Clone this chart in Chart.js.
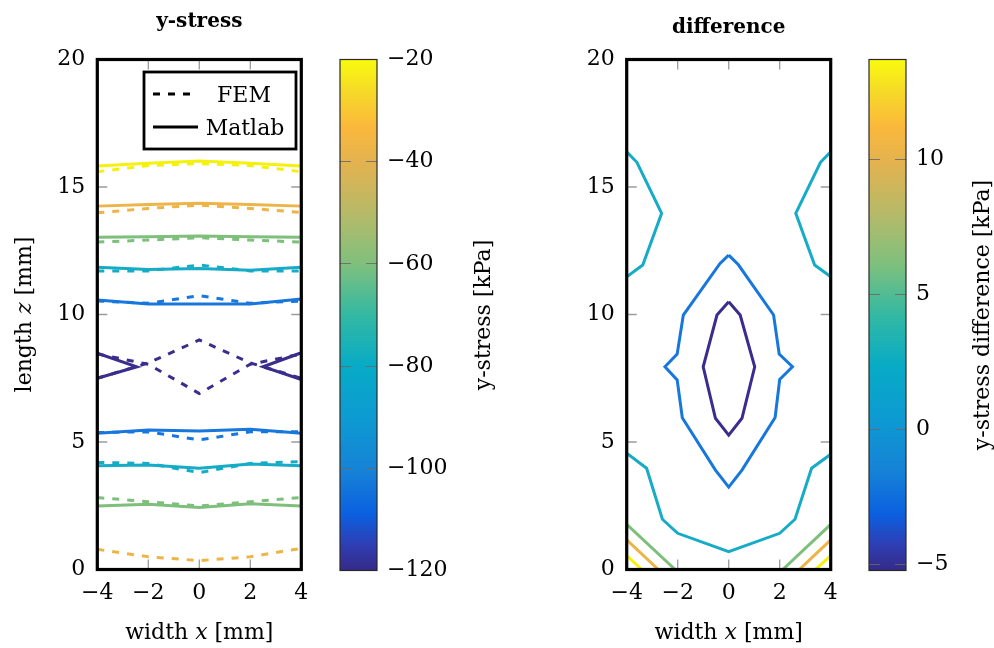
<!DOCTYPE html>
<html>
<head>
<meta charset="utf-8">
<script src="https://cdn.jsdelivr.net/npm/chart.js@4.4.0/dist/chart.umd.min.js"></script>
<style>
  html, body { margin: 0; padding: 0; background: #fff; }
  #wrap { position: relative; width: 994px; height: 648px; }
  #wrap canvas { position: absolute; left: 0; top: 0; }
</style>
</head>
<body>
<div id="wrap">
  <canvas id="stressChart" width="994" height="648"></canvas>
  <canvas id="stressBar" width="994" height="648"></canvas>
  <canvas id="diffChart" width="994" height="648"></canvas>
  <canvas id="diffBar" width="994" height="648"></canvas>
</div>
<script>
// axis ticks
const xTicks = [-4, -2, 0, 2, 4];
const zTicks = [0, 5, 10, 15, 20];
const stressTicks = [-120, -100, -80, -60, -40, -20];
const stressRange = [-120, -20];
const diffTicks = [-5, 0, 5, 10];
const diffRange = [-5.22, 13.7];

// contour heights z [mm] sampled at these widths
const widthX = [-4, -2, 0, 2, 4];

// Matlab contours (solid)
const matYellow = [15.82, 15.93, 16.02, 15.93, 15.82];
const matOrange = [14.25, 14.31, 14.36, 14.31, 14.25];
const matGreen = [13.03, 13.05, 13.08, 13.05, 13.03];
const matTealTop = [11.85, 11.76, 11.80, 11.74, 11.85];
const matBlueTop = [10.57, 10.41, 10.41, 10.41, 10.61];
const matPurpleLeft = [[-4, 8.48], [-2.45, 7.95], [-4, 7.5]];
const matPurpleRight = [[4, 8.5], [2.5, 7.95], [4, 7.45]];
const matBlueLow = [5.34, 5.47, 5.43, 5.5, 5.34];
const matTealLow = [4.07, 4.1, 3.97, 4.14, 4.07];
const matGreenLow = [2.49, 2.56, 2.43, 2.58, 2.49];

// FEM contours (dashed)
const femYellow = [15.6, 15.84, 15.92, 15.84, 15.6];
const femOrange = [13.99, 14.16, 14.29, 14.16, 14.0];
const femGreen = [12.84, 12.92, 13.01, 12.92, 12.84];
const femTealTop = [11.71, 11.71, 11.94, 11.71, 11.71];
const femBlueTop = [10.53, 10.44, 10.74, 10.44, 10.53];
const femPurpleA = [8.45, 8.05, 6.9, 8.05, 8.45];
const femPurpleB = [7.5, 8.1, 9.0, 8.1, 7.5];
const femBlueLow = [5.37, 5.4, 5.08, 5.4, 5.4];
const femTealLow = [4.2, 4.16, 3.8, 4.16, 4.23];
const femGreenLow = [2.82, 2.66, 2.49, 2.66, 2.82];
const femOrangeLow = [0.79, 0.5, 0.35, 0.5, 0.83];

// difference contours, [x, z] pairs
const diffTealUpLeft = [[-4, 16.38], [-3.6, 15.97], [-2.63, 13.97], [-3.37, 11.94], [-4, 11.48]];
const diffTealUpRight = [[4, 16.38], [3.6, 15.97], [2.63, 13.97], [3.37, 11.94], [4, 11.48]];
const diffTealLow = [[-4, 4.56], [-3.22, 3.97], [-2.6, 1.97], [-2.0, 1.42], [0, 0.7],
  [2.0, 1.42], [2.6, 1.97], [3.25, 3.97], [4, 4.52]];
const diffBlue = [[0, 12.33], [0.38, 11.95], [1.76, 9.98], [1.98, 8.45], [2.5, 7.95],
  [2.0, 7.45], [1.82, 5.96], [0.52, 3.9], [0, 3.23], [-0.52, 3.9], [-1.82, 5.95],
  [-2.02, 7.43], [-2.5, 7.95], [-2.02, 8.45], [-1.78, 9.98], [-0.34, 12.0], [0, 12.33]];
const diffPurple = [[0, 10.5], [0.45, 9.98], [1.02, 7.95], [0.52, 5.93], [0, 5.27],
  [-0.52, 5.93], [-1.0, 7.95], [-0.46, 9.98], [0, 10.5]];
const diffGreenLeft = [[-4, 1.77], [-2.1, 0]];
const diffGreenRight = [[2.12, 0], [4, 1.77]];
const diffOrangeLeft = [[-4, 1.16], [-2.76, 0]];
const diffOrangeRight = [[2.77, 0], [4, 1.16]];
const diffYellowLeft = [[-4, 0.54], [-3.41, 0]];
const diffYellowRight = [[3.4, 0], [4, 0.54]];

// colours
const tone = {
  yellow: '#f5f10f',
  orange: '#edb448',
  green: '#7dbf7b',
  teal: '#16abc6',
  blue: '#1877dc',
  purple: '#3a2d8e'
};
const parula = [
  [0.00, '#352a87'], [0.05, '#2f3eb4'], [0.11, '#0b60e0'], [0.20, '#1684d6'],
  [0.30, '#0d9bd2'], [0.40, '#07abc6'], [0.50, '#33b9a2'], [0.60, '#7fc07d'],
  [0.70, '#b7ba68'], [0.80, '#e4b24f'], [0.87, '#fbb93b'], [0.94, '#f6db27'],
  [1.00, '#f9fb0e']
];

const SERIF = "'DejaVu Serif', 'Liberation Serif', serif";
const tickFont = { family: SERIF, size: 22 };
const W = 994, H = 648;
const stressArea = { left: 97.3, right: 301.3, top: 59.5, bottom: 569.5 };
const diffArea = { left: 626.7, right: 830.7, top: 59.5, bottom: 569.5 };

const fmt = v => (v < 0 ? '\u2212' + Math.abs(v) : String(v));

function onGrid(zs) {
  return zs.map((z, i) => [widthX[i], z]);
}

function contour(points, color, dashed, width) {
  return {
    data: points.map(([x, z]) => ({ x: x, y: z })),
    showLine: true,
    borderColor: color,
    borderWidth: width || 3,
    borderDash: dashed ? [7, 8] : [],
    pointRadius: 0,
    fill: false,
    tension: 0
  };
}

function drawRich(ctx, parts, cx, cy, rotate) {
  ctx.save();
  ctx.translate(cx, cy);
  if (rotate) ctx.rotate(-Math.PI / 2);
  ctx.textBaseline = 'middle';
  ctx.textAlign = 'left';
  ctx.fillStyle = '#000';
  let total = 0;
  parts.forEach(p => { ctx.font = p.font; total += ctx.measureText(p.text).width; });
  let x = -total / 2;
  parts.forEach(p => {
    ctx.font = p.font;
    ctx.fillText(p.text, x, 0);
    x += ctx.measureText(p.text).width;
  });
  ctx.restore();
}

const upright = '22px ' + SERIF;
const slanted = 'italic 22px ' + SERIF;

// inner tick marks and the heavy frame
const frameTicks = {
  id: 'frameTicks',
  beforeDatasetsDraw(chart) {
    const { ctx, chartArea: a, scales } = chart;
    ctx.save();
    ctx.strokeStyle = '#9c9c9c';
    ctx.lineWidth = 1.3;
    ctx.beginPath();
    scales.x.ticks.forEach(t => {
      const px = scales.x.getPixelForValue(t.value);
      if (px < a.left + 2 || px > a.right - 2) return;
      ctx.moveTo(px, a.bottom); ctx.lineTo(px, a.bottom - 10);
      ctx.moveTo(px, a.top); ctx.lineTo(px, a.top + 10);
    });
    scales.y.ticks.forEach(t => {
      const py = scales.y.getPixelForValue(t.value);
      if (py < a.top + 2 || py > a.bottom - 2) return;
      ctx.moveTo(a.left, py); ctx.lineTo(a.left + 10, py);
      ctx.moveTo(a.right, py); ctx.lineTo(a.right - 10, py);
    });
    ctx.stroke();
    ctx.restore();
  },
  afterDatasetsDraw(chart) {
    const { ctx, chartArea: a } = chart;
    ctx.save();
    ctx.strokeStyle = '#000';
    ctx.lineWidth = 3.2;
    ctx.strokeRect(a.left, a.top, a.right - a.left, a.bottom - a.top);
    ctx.restore();
  },
  afterDraw(chart) {
    const { ctx, chartArea: a } = chart;
    const cx = (a.left + a.right) / 2;
    drawRich(ctx, [{ text: 'width ', font: upright }, { text: 'x', font: slanted }, { text: ' [mm]', font: upright }], cx, 633, false);
    if (chart.canvas.id === 'stressChart') {
      drawRich(ctx, [{ text: 'length ', font: upright }, { text: 'z', font: slanted }, { text: ' [mm]', font: upright }], 25, (a.top + a.bottom) / 2, true);
    }
  }
};

// FEM / Matlab key in the upper right corner
const lineKey = {
  id: 'lineKey',
  afterDraw(chart) {
    const ctx = chart.ctx;
    ctx.save();
    ctx.fillStyle = '#fff';
    ctx.fillRect(144, 72, 152, 77);
    ctx.strokeStyle = '#000';
    ctx.lineWidth = 2.8;
    ctx.strokeRect(144, 72, 152, 77);
    ctx.lineWidth = 3;
    ctx.setLineDash([7, 8]);
    ctx.beginPath(); ctx.moveTo(153, 94); ctx.lineTo(195, 94); ctx.stroke();
    ctx.setLineDash([]);
    ctx.beginPath(); ctx.moveTo(153, 127); ctx.lineTo(198, 127); ctx.stroke();
    ctx.fillStyle = '#000';
    ctx.font = upright;
    ctx.textAlign = 'center';
    ctx.textBaseline = 'alphabetic';
    ctx.fillText('FEM', 244, 102);
    ctx.fillText('Matlab', 245, 135);
    ctx.restore();
  }
};

// parula strip with border and rotated caption
const colorbar = {
  id: 'colorbar',
  beforeDraw(chart) {
    const { ctx, chartArea: a } = chart;
    const g = ctx.createLinearGradient(0, a.bottom, 0, a.top);
    parula.forEach(([t, c]) => g.addColorStop(t, c));
    ctx.save();
    ctx.fillStyle = g;
    ctx.fillRect(a.left, a.top, a.right - a.left, a.bottom - a.top);
    ctx.restore();
  },
  afterDraw(chart, args, opts) {
    const { ctx, chartArea: a } = chart;
    ctx.save();
    ctx.strokeStyle = '#2a2a2a';
    ctx.lineWidth = 1.2;
    ctx.strokeRect(a.left, a.top, a.right - a.left, a.bottom - a.top);
    ctx.restore();
    drawRich(ctx, [{ text: opts.caption, font: upright }], opts.captionX, (a.top + a.bottom) / 2, true);
  }
};

function plotConfig(area, title, titlePad, datasets, extraPlugins) {
  const yAxisW = 80;
  return {
    type: 'scatter',
    data: { datasets: datasets },
    plugins: [frameTicks].concat(extraPlugins),
    options: {
      responsive: false,
      animation: false,
      events: [],
      layout: { padding: { left: area.left - yAxisW, right: W - area.right, top: 0, bottom: 0 } },
      plugins: {
        legend: { display: false },
        tooltip: { enabled: false },
        title: {
          display: true, text: title, fullSize: false, color: '#000',
          font: { family: SERIF, size: 20, weight: 'bold', lineHeight: 1.2 },
          padding: titlePad
        }
      },
      scales: {
        x: {
          type: 'linear', min: -4, max: 4,
          afterBuildTicks: s => { s.ticks = xTicks.map(v => ({ value: v })); },
          afterFit: s => { s.height = H - area.bottom; },
          grid: { display: false }, border: { display: false },
          ticks: { font: tickFont, color: '#000', padding: 3, maxRotation: 0, autoSkip: false, callback: fmt }
        },
        y: {
          type: 'linear', min: 0, max: 20,
          afterBuildTicks: s => { s.ticks = zTicks.map(v => ({ value: v })); },
          afterFit: s => { s.width = yAxisW; },
          grid: { display: false }, border: { display: false },
          ticks: { font: tickFont, color: '#000', padding: 4, autoSkip: false, callback: fmt }
        }
      }
    }
  };
}

function barConfig(left, right, range, ticks, caption, captionX) {
  const axisW = 80;
  return {
    type: 'scatter',
    data: { datasets: [] },
    plugins: [colorbar],
    options: {
      responsive: false,
      animation: false,
      events: [],
      layout: { padding: { left: left, right: W - right - axisW, top: 59.5, bottom: H - 570.5 } },
      plugins: {
        legend: { display: false },
        tooltip: { enabled: false },
        colorbar: { caption: caption, captionX: captionX }
      },
      scales: {
        x: { display: false },
        y: {
          type: 'linear', position: 'right', min: range[0], max: range[1],
          afterBuildTicks: s => { s.ticks = ticks.map(v => ({ value: v })); },
          afterFit: s => { s.width = axisW; },
          grid: { color: 'rgba(105,105,105,0.85)', lineWidth: 1, drawTicks: false },
          border: { display: false, dash: [11, 15] },
          ticks: { font: tickFont, color: '#000', padding: 10, autoSkip: false, callback: fmt }
        }
      }
    }
  };
}

const stressSets = [
  contour(onGrid(femYellow), tone.yellow, true),
  contour(onGrid(femOrange), tone.orange, true),
  contour(onGrid(femGreen), tone.green, true),
  contour(onGrid(femTealTop), tone.teal, true),
  contour(onGrid(femBlueTop), tone.blue, true),
  contour(onGrid(femPurpleA), tone.purple, true),
  contour(onGrid(femPurpleB), tone.purple, true),
  contour(onGrid(femBlueLow), tone.blue, true),
  contour(onGrid(femTealLow), tone.teal, true),
  contour(onGrid(femGreenLow), tone.green, true),
  contour(onGrid(femOrangeLow), tone.orange, true),
  contour(onGrid(matYellow), tone.yellow, false),
  contour(onGrid(matOrange), tone.orange, false),
  contour(onGrid(matGreen), tone.green, false),
  contour(onGrid(matTealTop), tone.teal, false),
  contour(onGrid(matBlueTop), tone.blue, false),
  contour(matPurpleLeft, tone.purple, false),
  contour(matPurpleRight, tone.purple, false),
  contour(onGrid(matBlueLow), tone.blue, false),
  contour(onGrid(matTealLow), tone.teal, false),
  contour(onGrid(matGreenLow), tone.green, false)
];

const diffSets = [
  contour(diffTealUpLeft, tone.teal, false),
  contour(diffTealUpRight, tone.teal, false),
  contour(diffTealLow, tone.teal, false),
  contour(diffBlue, tone.blue, false),
  contour(diffPurple, tone.purple, false),
  contour(diffGreenLeft, tone.green, false),
  contour(diffGreenRight, tone.green, false),
  contour(diffOrangeLeft, tone.orange, false),
  contour(diffOrangeRight, tone.orange, false),
  contour(diffYellowLeft, tone.yellow, false),
  contour(diffYellowRight, tone.yellow, false)
];

new Chart(document.getElementById('stressChart'),
  plotConfig(stressArea, 'y-stress', { top: 10, bottom: 59.5 - 10 - 24 }, stressSets, [lineKey]));
new Chart(document.getElementById('diffChart'),
  plotConfig(diffArea, 'difference', { top: 16, bottom: 59.5 - 16 - 24 }, diffSets, []));
new Chart(document.getElementById('stressBar'),
  barConfig(340, 377, stressRange, stressTicks, 'y-stress [kPa]', 484));
new Chart(document.getElementById('diffBar'),
  barConfig(869, 906, diffRange, diffTicks, 'y-stress difference [kPa]', 983));
</script>
</body>
</html>
